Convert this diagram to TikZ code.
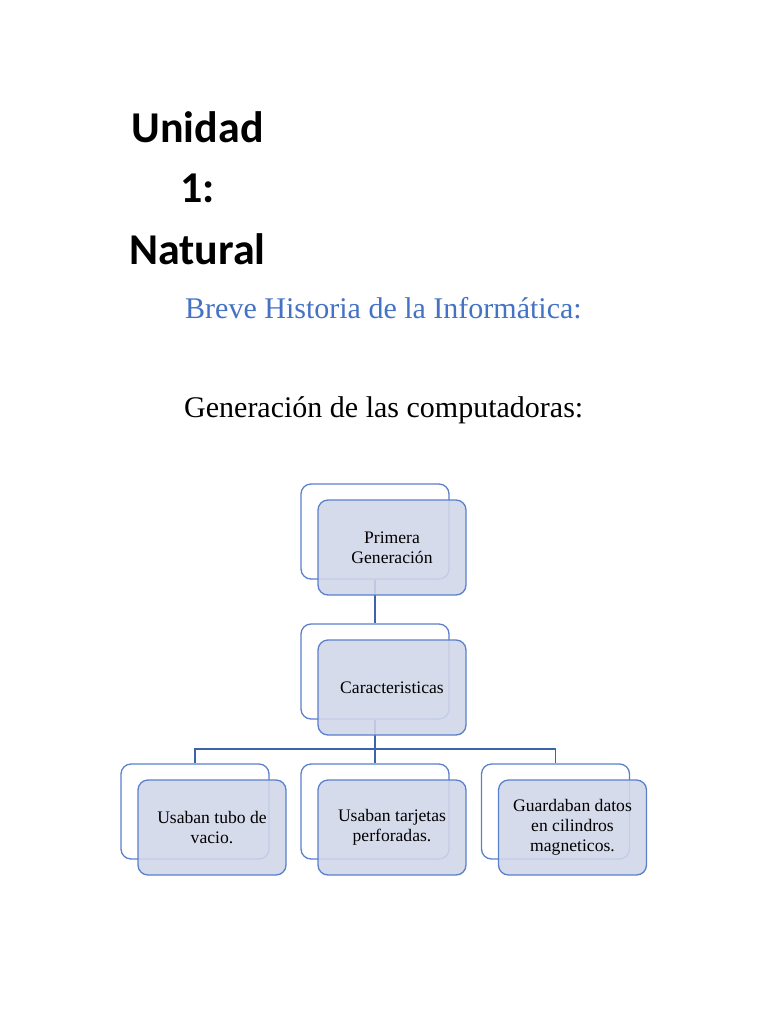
\documentclass[tikz,border=0pt]{standalone}
\usepackage{fontspec}
\setmainfont{Liberation Serif}
\newfontfamily\titlefont{Carlito}
\definecolor{tblue}{HTML}{4472C4}
\definecolor{bordblue}{HTML}{5A80CC}
\definecolor{lineblue}{HTML}{3E63AD}
\definecolor{boxfill}{HTML}{D1D7EA}
\begin{document}
\begin{tikzpicture}[x=1pt,y=-1pt,
  backbox/.style={draw=bordblue,line width=1.3pt,rounded corners=10pt,fill=white,
    minimum width=148pt,minimum height=95pt,inner sep=0pt},
  frontbox/.style={draw=bordblue,line width=1.3pt,rounded corners=10pt,fill=boxfill,fill opacity=0.88,text opacity=1,
    minimum width=148pt,minimum height=95pt,inner sep=0pt,align=center,
    font=\fontsize{17.6}{20}\selectfont},
  conn/.style={draw=lineblue,line width=1.6pt}]
\useasboundingbox (0,0) rectangle (768,1024);
\fill[white] (0,0) rectangle (768,1024);
% titles
\node[anchor=base,font=\titlefont\bfseries\fontsize{44}{50}\selectfont] (t1) at (197.5,143) {Unidad};
\node[anchor=base,font=\titlefont\bfseries\fontsize{44}{50}\selectfont] (t2) at (197.5,203) {1:};
\node[anchor=base,font=\titlefont\bfseries\fontsize{44}{50}\selectfont] (t3) at (197.5,264) {Natural};
\node[anchor=base west,inner sep=0pt,text=tblue,font=\fontsize{30}{34}\selectfont] (t4) at (185,318) {Breve Historia de la Informática:};
\node[anchor=base west,inner sep=0pt,font=\fontsize{30}{34}\selectfont] (t5) at (184,417) {Generación de las computadoras:};
% back boxes
\node[backbox] (pb) at (375,531.5) {};
\node[backbox] (cb) at (375,671.5) {};
\node[backbox] (b1) at (195,811.5) {};
\node[backbox] (b2) at (375,811.5) {};
\node[backbox] (b3) at (555.5,811.5) {};
% connectors
\coordinate (bar) at (375,749);
\draw[conn] (pb.south) -- (cb.north);
\draw[conn] (cb.south) -- (bar);
\draw[conn] (b1.north) |- (bar) -| (b3.north);
\draw[conn] (bar) -- (b2.north);
% front boxes
\node[frontbox] (pf) at (392,547.5) {Primera\\Generación};
\node[frontbox] (cf) at (392,687.5) {Caracteristicas};
\node[frontbox] (f1) at (212,827.5) {Usaban tubo de\\vacio.};
\node[frontbox] (f2) at (392,827.5) {Usaban tarjetas\\perforadas.};
\node[frontbox] (f3) at (572.5,827.5) {Guardaban datos\\en cilindros\\magneticos.};
\end{tikzpicture}
\end{document}
